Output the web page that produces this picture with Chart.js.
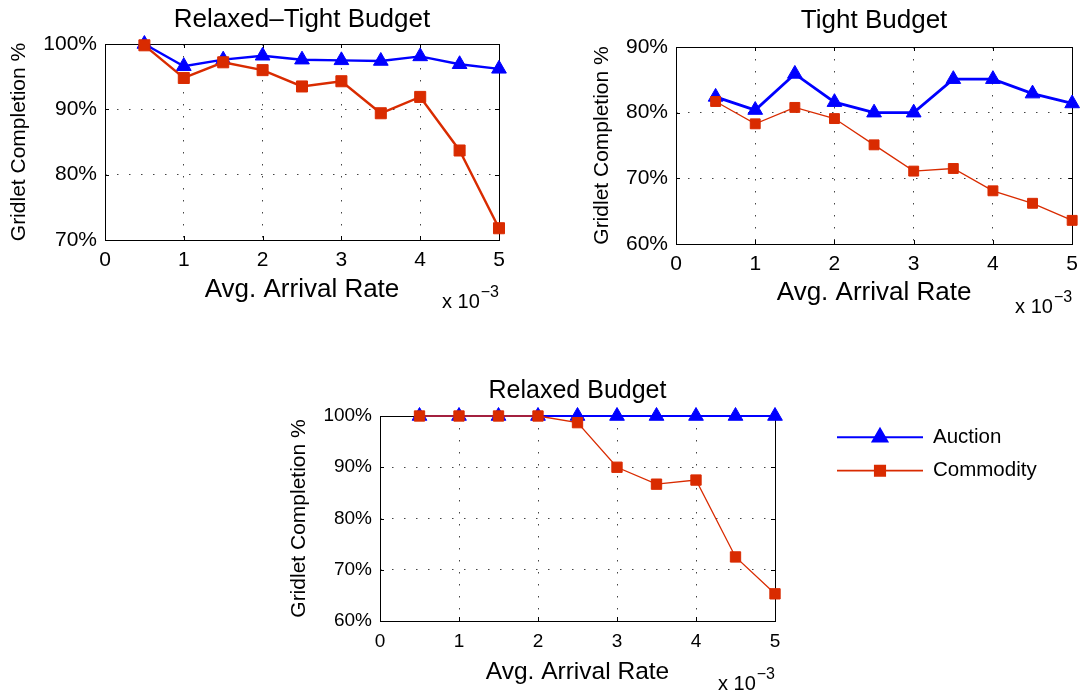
<!DOCTYPE html>
<html>
<head>
<meta charset="utf-8">
<script src="https://cdn.jsdelivr.net/npm/chart.js@4.4.0/dist/chart.umd.min.js"></script>
<style>
    body { margin: 0; background: #fff; width: 1086px; height: 695px; position: relative; overflow: hidden; }
    canvas { position: absolute; }
</style>
</head>
<body>
<canvas id="relaxedTightChart" width="540" height="320" style="left:0px;top:0px"></canvas>
<canvas id="tightChart" width="526" height="320" style="left:560px;top:0px"></canvas>
<canvas id="relaxedChart" width="816" height="325" style="left:270px;top:370px"></canvas>
<script>
//=================================
// Data (arrival rate in units of 10^-3)
//=================================
const arrivalRates = [0.5, 1, 1.5, 2, 2.5, 3, 3.5, 4, 4.5, 5];
const xTickValues = [0, 1, 2, 3, 4, 5];

const relaxedTightAuction = [100, 96.6, 97.6, 98.2, 97.6, 97.5, 97.4, 98.1, 96.9, 96.2];
const relaxedTightCommodity = [99.8, 94.8, 97.2, 96.0, 93.5, 94.3, 89.4, 91.9, 83.7, 71.8];
const relaxedTightYTicks = [70, 80, 90, 100];

const tightAuction = [82.4, 80.4, 85.9, 81.6, 80.0, 80.0, 85.1, 85.1, 82.9, 81.4];
const tightCommodity = [81.7, 78.3, 80.8, 79.1, 75.1, 71.1, 71.5, 68.1, 66.2, 63.6];
const tightYTicks = [60, 70, 80, 90];

const relaxedAuction = [100, 100, 100, 100, 100, 100, 100, 100, 100, 100];
const relaxedCommodity = [100, 100, 100, 100, 98.7, 90.0, 86.7, 87.5, 72.5, 65.3];
const relaxedYTicks = [60, 70, 80, 90, 100];

const seriesNames = ["Auction", "Commodity"];
const xAxisTitle = "Avg. Arrival Rate";
const yAxisTitle = "Gridlet Completion %";
const exponentBase = "x 10";
const exponentPower = "\u22123";

const FONT = "'Liberation Sans', Arial, Helvetica, sans-serif";
const AUCTION_COLOR = "#0000ff";
const COMMODITY_COLOR = "#d92b00";

//=================================
// Plugins
//=================================

//solid box round the plot with small inward tick marks (matlab style)
const frameBox = {
    id: "frameBox",
    beforeDatasetsDraw(chart) {
        const {ctx, chartArea: a, scales} = chart;
        const tl = 4;
        ctx.save();
        ctx.strokeStyle = "#000";
        ctx.lineWidth = 1;
        ctx.beginPath();
        scales.x.ticks.forEach(t => {
            const px = Math.round(scales.x.getPixelForValue(t.value)) + 0.5;
            ctx.moveTo(px, a.bottom); ctx.lineTo(px, a.bottom - tl);
            ctx.moveTo(px, a.top); ctx.lineTo(px, a.top + tl);
        });
        scales.y.ticks.forEach(t => {
            const py = Math.round(scales.y.getPixelForValue(t.value)) + 0.5;
            ctx.moveTo(a.left, py); ctx.lineTo(a.left + tl, py);
            ctx.moveTo(a.right, py); ctx.lineTo(a.right - tl, py);
        });
        ctx.stroke();
        ctx.strokeRect(Math.round(a.left) + 0.5, Math.round(a.top) + 0.5,
            Math.round(a.right - a.left), Math.round(a.bottom - a.top));
        ctx.restore();
    }
};

//the "x 10^-3" multiplier under the x axis
const exponentLabel = {
    id: "exponentLabel",
    afterDraw(chart, args, opts) {
        const {ctx, chartArea: a} = chart;
        ctx.save();
        ctx.fillStyle = "#000";
        ctx.textAlign = "right";
        ctx.textBaseline = "alphabetic";
        ctx.font = "16px " + FONT;
        ctx.fillText(exponentPower, a.right, a.bottom + opts.supOffset);
        const w = ctx.measureText(exponentPower).width;
        ctx.font = "20px " + FONT;
        ctx.fillText(exponentBase, a.right - w - 1, a.bottom + opts.baseOffset);
        ctx.restore();
    }
};

//legend to the right of the plot, line with marker like matlab
const sideLegend = {
    id: "sideLegend",
    afterDraw(chart, args, opts) {
        if (!opts.display) return;
        const {ctx, chartArea: a} = chart;
        chart.data.datasets.forEach((ds, i) => {
            const y = a.top + opts.top + i * opts.rowGap;
            const x0 = a.right + opts.lineStart;
            const x1 = x0 + opts.lineLength;
            ctx.save();
            ctx.strokeStyle = ds.borderColor;
            ctx.lineWidth = Math.max(ds.borderWidth, 1.8);
            ctx.beginPath();
            ctx.moveTo(x0, y);
            ctx.lineTo(x1, y);
            ctx.stroke();
            ctx.fillStyle = ds.backgroundColor;
            ctx.strokeStyle = ds.borderColor;
            Chart.helpers.drawPoint(ctx, {
                pointStyle: ds.pointStyle, radius: ds.pointRadius, rotation: 0, borderWidth: 1
            }, (x0 + x1) / 2, y);
            ctx.fillStyle = "#000";
            ctx.font = opts.fontSize + "px " + FONT;
            ctx.textAlign = "left";
            ctx.textBaseline = "middle";
            ctx.fillText(ds.label, x1 + opts.textGap, y);
            ctx.restore();
        });
    }
};

//=================================
// Chart builder
//=================================
function toPoints(values) {
    return arrivalRates.map((x, i) => ({x: x, y: values[i]}));
}

function makeChart(canvasId, p) {
    const yTicks = p.yTicks;
    return new Chart(document.getElementById(canvasId), {
        type: "line",
        data: {
            datasets: [
                {
                    label: seriesNames[0],
                    data: toPoints(p.auction),
                    borderColor: AUCTION_COLOR,
                    backgroundColor: AUCTION_COLOR,
                    borderWidth: p.auctionWidth,
                    pointStyle: "triangle",
                    pointRadius: 8.5,
                    pointBorderWidth: 1,
                    clip: false,
                    order: 2
                },
                {
                    label: seriesNames[1],
                    data: toPoints(p.commodity),
                    borderColor: COMMODITY_COLOR,
                    backgroundColor: COMMODITY_COLOR,
                    borderWidth: p.commodityWidth,
                    pointStyle: "rect",
                    pointRadius: p.squareRadius,
                    pointBorderWidth: 1,
                    clip: false,
                    order: 1
                }
            ]
        },
        options: {
            responsive: false,
            animation: false,
            devicePixelRatio: 1,
            layout: {padding: {left: 0, top: 0, right: p.padRight, bottom: 0}},
            scales: {
                x: {
                    type: "linear",
                    min: 0,
                    max: 5,
                    afterBuildTicks: s => { s.ticks = xTickValues.map(v => ({value: v})); },
                    afterFit: s => { s.height = p.xAxisHeight; },
                    grid: {color: "#444", lineWidth: 1, drawTicks: false},
                    border: {display: false, dash: [1.5, 10.5]},
                    ticks: {color: "#000", font: {family: FONT, size: p.tickSize}, padding: p.xTickPad, maxRotation: 0},
                    title: {
                        display: true, text: xAxisTitle, color: "#000",
                        font: {family: FONT, size: p.xTitleSize},
                        padding: {top: 0, bottom: p.xTitlePad}
                    }
                },
                y: {
                    type: "linear",
                    min: yTicks[0],
                    max: yTicks[yTicks.length - 1],
                    afterBuildTicks: s => { s.ticks = yTicks.map(v => ({value: v})); },
                    afterFit: s => { s.width = p.yAxisWidth; },
                    grid: {color: "#444", lineWidth: 1, drawTicks: false},
                    border: {display: false, dash: [1.5, 10.5]},
                    ticks: {
                        color: "#000", font: {family: FONT, size: p.tickSize}, padding: 8,
                        callback: v => v + "%"
                    },
                    title: {
                        display: true, text: yAxisTitle, color: "#000",
                        font: {family: FONT, size: 21},
                        padding: {top: p.yTitlePad, bottom: 0}
                    }
                }
            },
            plugins: {
                legend: {display: false},
                tooltip: {enabled: false},
                title: {
                    display: true, text: p.title, fullSize: false, color: "#000",
                    font: {family: FONT, size: p.titleSize, weight: "normal"},
                    padding: {top: p.titlePadTop, bottom: p.titlePadBottom}
                },
                exponentLabel: {supOffset: p.supOffset, baseOffset: p.baseOffset},
                sideLegend: p.legend || {display: false}
            }
        },
        plugins: [frameBox, exponentLabel, sideLegend]
    });
}

makeChart("relaxedTightChart", {
    title: "Relaxed\u2013Tight Budget",
    auction: relaxedTightAuction, commodity: relaxedTightCommodity, yTicks: relaxedTightYTicks,
    auctionWidth: 2.4, commodityWidth: 2.4, squareRadius: 7.8,
    padRight: 41, yAxisWidth: 105, xAxisHeight: 80,
    titleSize: 26, titlePadTop: 4.7, titlePadBottom: 8.1,
    tickSize: 21, xTickPad: 8, xTitleSize: 26, xTitlePad: 15, yTitlePad: 7,
    supOffset: 57, baseOffset: 68.3
});

makeChart("tightChart", {
    title: "Tight Budget",
    auction: tightAuction, commodity: tightCommodity, yTicks: tightYTicks,
    auctionWidth: 2.8, commodityWidth: 1.3, squareRadius: 7,
    padRight: 12, yAxisWidth: 116, xAxisHeight: 76,
    titleSize: 26, titlePadTop: 5.7, titlePadBottom: 10.1,
    tickSize: 21, xTickPad: 8, xTitleSize: 26, xTitlePad: 11.4, yTitlePad: 30,
    supOffset: 57.7, baseOffset: 69.3
});

makeChart("relaxedChart", {
    title: "Relaxed Budget",
    auction: relaxedAuction, commodity: relaxedCommodity, yTicks: relaxedYTicks,
    auctionWidth: 2, commodityWidth: 1.3, squareRadius: 7.3,
    padRight: 311, yAxisWidth: 110, xAxisHeight: 74,
    titleSize: 25, titlePadTop: 6.5, titlePadBottom: 9.5,
    tickSize: 19, xTickPad: 9, xTitleSize: 24.5, xTitlePad: 8, yTitlePad: 17,
    supOffset: 58, baseOffset: 69,
    legend: {display: true, top: 21.3, rowGap: 33.4, lineStart: 62, lineLength: 86, textGap: 10, fontSize: 20.5}
});
</script>
</body>
</html>
